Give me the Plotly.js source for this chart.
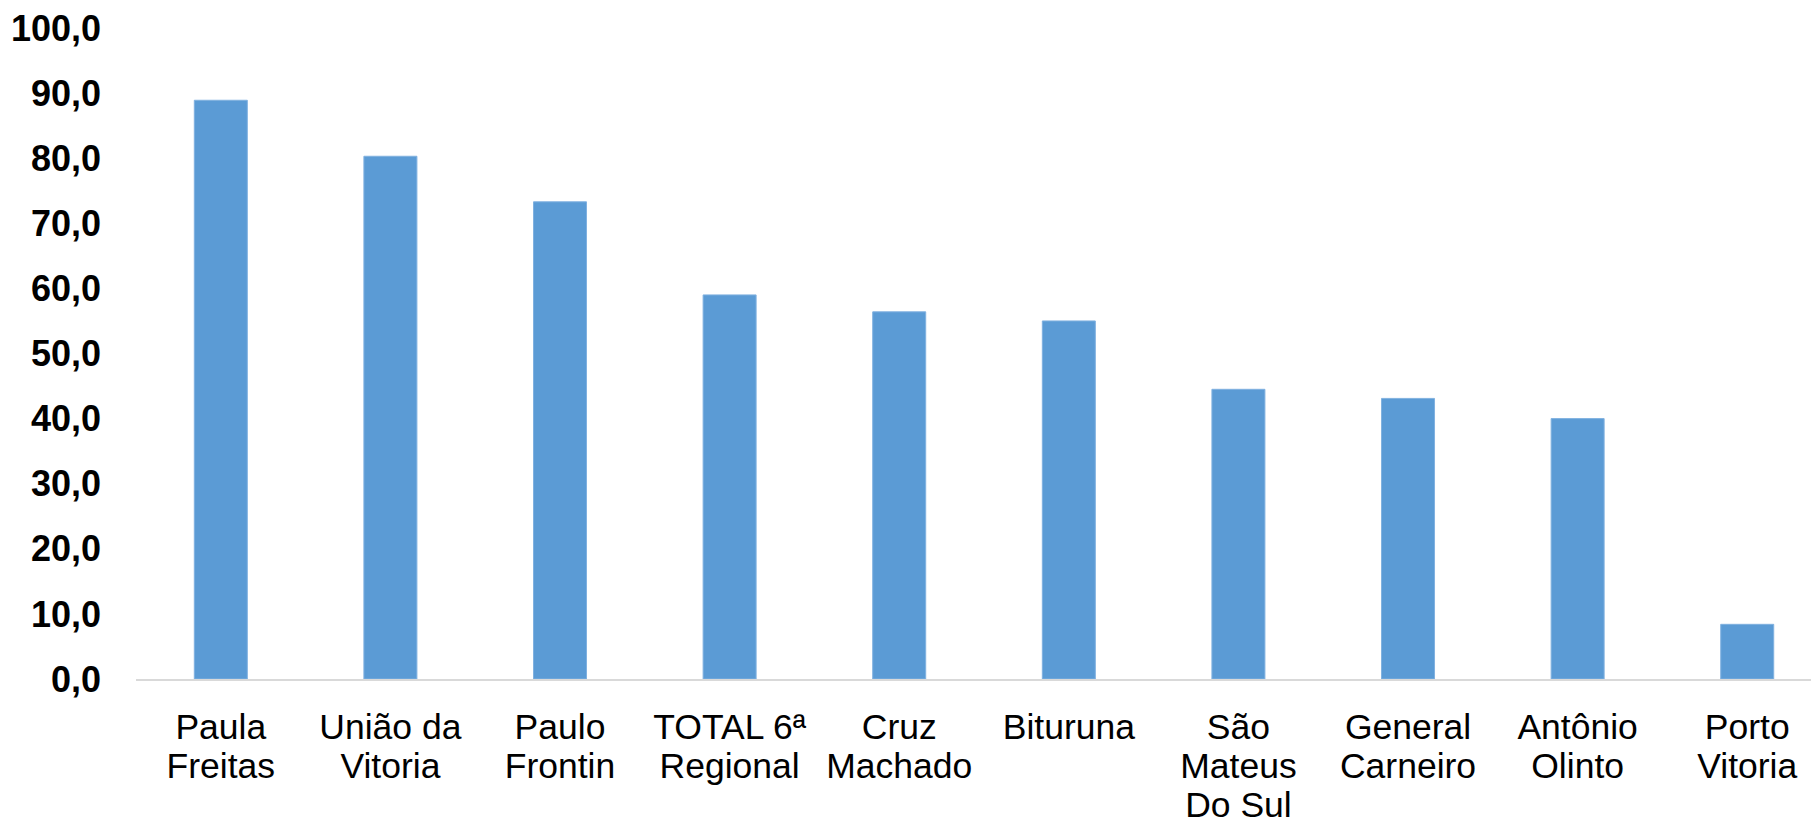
<!DOCTYPE html>
<html>
<head>
<meta charset="utf-8">
<script src="https://cdn.plot.ly/plotly-3.0.1.min.js"></script>
<style>html,body{margin:0;padding:0;background:#fff;}#chart{width:1811px;height:824px;}</style>
</head>
<body>
<div id="chart"></div>
<script>
const categories = ["Paula<br>Freitas", "União da<br>Vitoria", "Paulo<br>Frontin", "TOTAL 6ª<br>Regional", "Cruz<br>Machado", "Bituruna", "São<br>Mateus<br>Do Sul", "General<br>Carneiro", "Antônio<br>Olinto", "Porto<br>Vitoria"];
const values = [88.9, 80.3, 73.3, 59.0, 56.4, 55.0, 44.5, 43.1, 40.0, 8.4];
const yTicks = [0, 10, 20, 30, 40, 50, 60, 70, 80, 90, 100];

const trace = {
  type: 'bar',
  x: categories,
  y: values,
  marker: {color: '#5B9BD5', line: {color: '#80B1E0', width: 1}},
  hoverinfo: 'skip'
};

const layout = {
  width: 1811,
  height: 824,
  margin: {l: 136, r: 0, t: 28, b: 145, pad: 0},
  paper_bgcolor: '#ffffff',
  plot_bgcolor: '#ffffff',
  bargap: 0.6875,
  showlegend: false,
  separators: ',.',
  font: {family: '"Liberation Sans", Arial, sans-serif', color: '#000000'},
  xaxis: {
    type: 'category',
    range: [-0.5, 9.376],
    showgrid: false,
    zeroline: false,
    showline: true,
    linecolor: '#D9D9D9',
    linewidth: 2,
    ticks: '',
    tickangle: 0,
    ticklabelstandoff: 15,
    tickfont: {size: 35.5, family: '"Liberation Sans", Arial, sans-serif', color: '#000000'}
  },
  yaxis: {
    range: [0, 100],
    tickvals: yTicks,
    tickformat: '.1f',
    showgrid: false,
    zeroline: false,
    showline: false,
    ticks: '',
    ticklabelstandoff: 34,
    tickfont: {size: 36, family: '"Liberation Sans", Arial, sans-serif', color: '#000000', weight: 'bold'}
  }
};

Plotly.newPlot('chart', [trace], layout, {staticPlot: true, displayModeBar: false}).then(function () {
  // tighten the line spacing of multi-line category labels to match the reference
  document.querySelectorAll('.xtick text tspan.line').forEach(function (t) {
    const dy = parseFloat(t.getAttribute('dy'));
    if (dy > 0) t.setAttribute('dy', (dy / 1.3 * 1.1).toFixed(3) + 'em');
  });
});
</script>
</body>
</html>
